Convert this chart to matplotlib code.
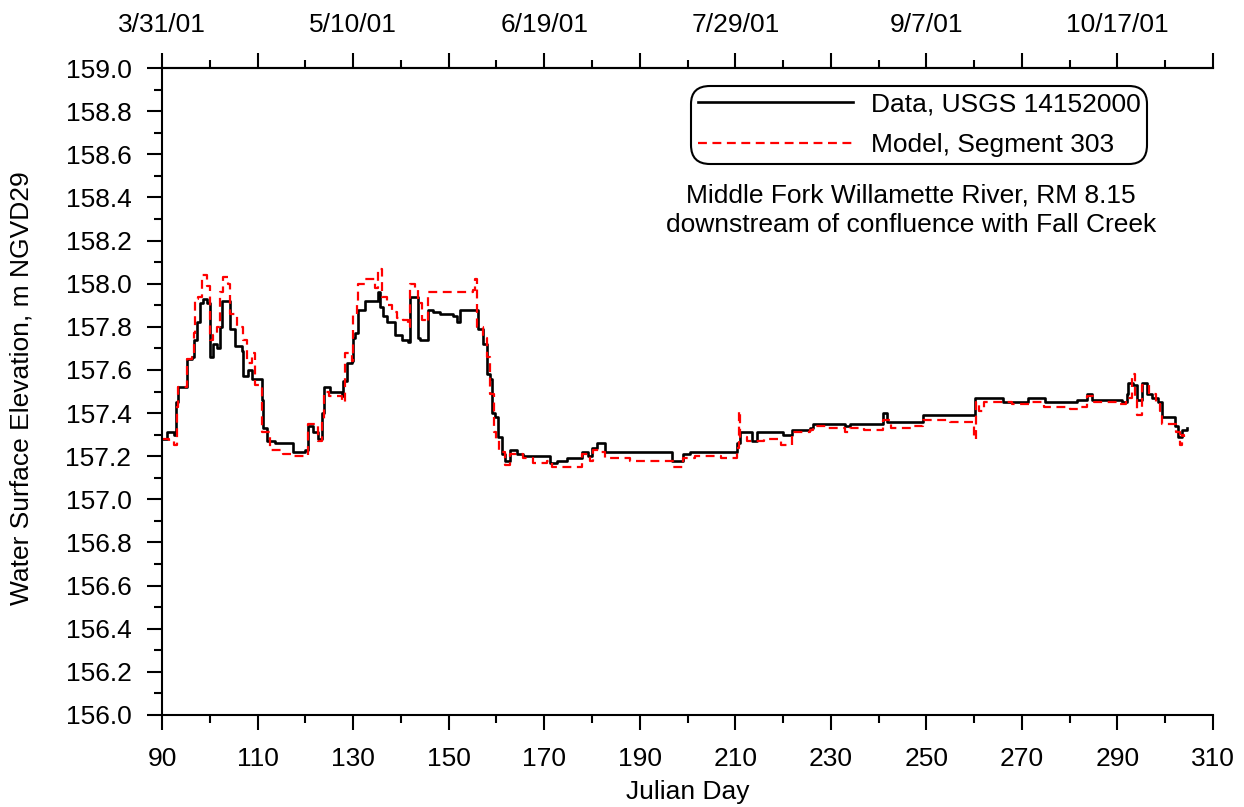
import matplotlib
matplotlib.use("Agg")
import matplotlib.pyplot as plt
from matplotlib.ticker import MultipleLocator, FixedLocator, FixedFormatter

plt.rcParams['font.family'] = ['Liberation Sans', 'DejaVu Sans']

# ---- data ----
data_day = [90, 91, 92.5, 93, 93.4, 94.8, 95.2, 96.3, 96.6, 97.3, 98, 98.6, 99.4, 100, 100.05,
            100.7, 101.5, 102.1, 102.6, 103.6, 104.2, 105.3, 106.7, 107, 108, 108.8, 111, 111.2,
            112, 113.7, 117.4, 120, 120.6, 121.6, 122.6, 123.5, 124, 125.2, 127.7, 127.9, 128.7,
            129.8, 129.9, 130.4, 131, 132, 132.5, 134.2, 135.3, 135.6, 136.3, 137.1, 138.8, 140.2,
            141.5, 141.9, 143.6, 144, 145.5, 145.7, 146.7, 148.2, 149.9, 150.9, 151.8, 152.4, 155.5,
            156.2, 157.2, 158, 158.7, 159.1, 159.7, 160.3, 161.2, 161.8, 162.8, 164.3, 165.6, 170.6,
            171.2, 172.7, 174.8, 177, 177.9, 179.2, 180, 181, 182.1, 182.7, 196.3, 196.7, 198, 199,
            200.5, 210, 210.3, 211, 212.5, 213.5, 214.5, 219, 220, 221.5, 221.9, 225.7, 226.3, 233,
            234, 240.3, 241, 241.8, 249, 249.3, 259.8, 260.2, 261.8, 266, 271.3, 273.8, 274.8, 280,
            281.5, 283.6, 284.6, 291, 292, 292.2, 293.3, 294, 294.6, 295.1, 296.2, 297.2, 298.5,
            299.3, 301.6, 302, 302.7, 303.5, 304.5]
data_wse = [157.28, 157.31, 157.30, 157.45, 157.52, 157.52, 157.65, 157.66, 157.74, 157.82, 157.91,
            157.93, 157.91, 157.80, 157.66, 157.72, 157.70, 157.80, 157.92, 157.92, 157.79, 157.71,
            157.69, 157.57, 157.60, 157.56, 157.46, 157.33, 157.27, 157.26, 157.22, 157.23, 157.34,
            157.31, 157.28, 157.40, 157.52, 157.50, 157.48, 157.55, 157.63, 157.64, 157.75, 157.77,
            157.88, 157.88, 157.92, 157.92, 157.96, 157.89, 157.85, 157.82, 157.76, 157.74, 157.73,
            157.94, 157.75, 157.74, 157.74, 157.88, 157.87, 157.86, 157.86, 157.85, 157.82, 157.88,
            157.88, 157.79, 157.72, 157.58, 157.56, 157.40, 157.38, 157.29, 157.21, 157.18, 157.23,
            157.21, 157.20, 157.20, 157.17, 157.18, 157.19, 157.19, 157.22, 157.20, 157.24, 157.26,
            157.26, 157.22, 157.22, 157.18, 157.18, 157.21, 157.22, 157.22, 157.26, 157.31, 157.31,
            157.27, 157.31, 157.31, 157.30, 157.30, 157.32, 157.33, 157.35, 157.34, 157.35, 157.35,
            157.40, 157.36, 157.36, 157.39, 157.39, 157.47, 157.47, 157.45, 157.47, 157.47, 157.45,
            157.45, 157.46, 157.49, 157.46, 157.45, 157.49, 157.54, 157.53, 157.46, 157.46, 157.54,
            157.49, 157.47, 157.45, 157.38, 157.38, 157.34, 157.29, 157.32, 157.33]

model_day = [90, 91.5, 92.5, 93.1, 93.4, 94.8, 95.2, 96.3, 96.6, 96.9, 97.5, 98.4, 99.4, 100, 100.7,
             101.5, 102.1, 102.8, 103.8, 104.2, 105.7, 107, 107.8, 108.8, 109.5, 110.5, 111, 112.6,
             115.3, 117.4, 120.3, 120.6, 122.6, 123.5, 124, 125, 127.7, 128.3, 129.8, 129.9, 130.8,
             131, 132.5, 134, 134.6, 135.3, 136, 137.1, 138.1, 139.2, 140.5, 141.5, 141.9, 142.9,
             143.6, 144.4, 145.3, 145.7, 147.5, 149.7, 152.4, 155.1, 155.5, 155.9, 157.2, 158,
             158.7, 159.4, 160, 160.5, 161.8, 162.8, 165.6, 167.7, 170.6, 171.6, 177, 177.9, 179.5,
             180.2, 181.6, 182.7, 188, 196.3, 197, 198.4, 199, 201.5, 207, 210.3, 210.8, 211, 212.5,
             213.5, 216, 219, 219.5, 221.9, 225.7, 226.3, 229.5, 233, 234, 237, 241, 242.5, 247.5,
             249.3, 255, 259.5, 259.9, 260.3, 261, 262, 268, 272, 274.6, 280, 282, 283.6, 285, 290,
             291.8, 293, 293.6, 294, 295.1, 296.5, 298, 299, 299.4, 301.5, 302.3, 303.1, 303.6, 303.9]
model_wse = [157.28, 157.27, 157.25, 157.43, 157.52, 157.52, 157.65, 157.66, 157.77, 157.93, 157.94,
             158.04, 157.99, 157.74, 157.76, 157.80, 157.96, 158.03, 158.00, 157.86, 157.80, 157.74,
             157.63, 157.68, 157.53, 157.52, 157.31, 157.23, 157.21, 157.20, 157.20, 157.35, 157.27,
             157.37, 157.50, 157.48, 157.45, 157.68, 157.64, 157.86, 157.92, 158.00, 158.02, 158.02,
             157.98, 158.07, 157.94, 157.90, 157.87, 157.84, 157.83, 157.80, 158.00, 157.98, 157.91,
             157.83, 157.82, 157.96, 157.96, 157.96, 157.96, 157.97, 158.02, 157.80, 157.75, 157.66,
             157.49, 157.31, 157.28, 157.22, 157.16, 157.21, 157.19, 157.17, 157.18, 157.15, 157.15,
             157.21, 157.18, 157.23, 157.22, 157.19, 157.18, 157.18, 157.15, 157.15, 157.19, 157.20,
             157.19, 157.24, 157.41, 157.29, 157.27, 157.27, 157.28, 157.27, 157.25, 157.31, 157.32,
             157.34, 157.33, 157.31, 157.33, 157.32, 157.37, 157.33, 157.34, 157.37, 157.36, 157.36,
             157.28, 157.45, 157.41, 157.45, 157.44, 157.45, 157.43, 157.42, 157.43, 157.48, 157.45,
             157.44, 157.47, 157.58, 157.46, 157.39, 157.53, 157.49, 157.45, 157.41, 157.35, 157.35,
             157.31, 157.25, 157.30, 157.29]

x_major = [90, 110, 130, 150, 170, 190, 210, 230, 250, 270, 290, 310]
x_minor = [100, 120, 140, 160, 180, 200, 220, 240, 260, 280, 300]
top_labels = ['3/31/01', '', '5/10/01', '', '6/19/01', '', '7/29/01', '', '9/7/01', '', '10/17/01', '']

legend_labels = ['Data, USGS 14152000', 'Model, Segment 303']
note = 'Middle Fork Willamette River, RM 8.15\ndownstream of confluence with Fall Creek'

FS = 19

fig = plt.figure(figsize=(12.44, 8.07), dpi=100)
ax = fig.add_axes([162/1244, 1 - 715/807, (1213-162)/1244, (715-68)/807])

ax.plot(data_day, data_wse, color='black', lw=1.9, drawstyle='steps-post', label=legend_labels[0])
ax.plot(model_day, model_wse, color='red', lw=1.6, ls=(0, (4, 2.5)), drawstyle='steps-post',
        label=legend_labels[1])

ax.set_xlim(90, 310)
ax.set_ylim(156.0, 159.0)
ax.xaxis.set_major_locator(FixedLocator(x_major))
ax.xaxis.set_minor_locator(FixedLocator(x_minor))
ax.yaxis.set_major_locator(MultipleLocator(0.2))
ax.yaxis.set_minor_locator(MultipleLocator(0.1))
ax.yaxis.set_major_formatter(matplotlib.ticker.FormatStrFormatter('%.1f'))
ax.tick_params(which='major', direction='out', length=11, width=1.5, labelsize=FS)
ax.tick_params(which='minor', direction='out', length=6, width=1.5)
ax.tick_params(axis='x', which='major', pad=12)
ax.tick_params(axis='y', which='major', pad=11)
for s in ['left', 'bottom', 'top']:
    ax.spines[s].set_linewidth(1.5)
ax.spines['right'].set_visible(False)

top = ax.twiny()
top.set_xlim(90, 310)
top.xaxis.set_major_locator(FixedLocator(x_major))
top.xaxis.set_major_formatter(FixedFormatter(top_labels))
top.xaxis.set_minor_locator(FixedLocator(x_minor))
top.tick_params(which='major', direction='out', length=11, width=1.5, labelsize=FS, pad=11)
top.tick_params(which='minor', direction='out', length=6, width=1.5)
top.spines['top'].set_linewidth(1.5)
top.spines['right'].set_visible(False)
top.spines['left'].set_visible(False)
top.spines['bottom'].set_visible(False)

leg = ax.legend(loc='upper right', bbox_to_anchor=((1147-162)/1051, (715-86)/647),
                fontsize=FS, frameon=True, fancybox=True, handlelength=5.9, handletextpad=0.65,
                borderpad=0.25, labelspacing=0.63, borderaxespad=0)
frame = leg.get_frame()
frame.set_edgecolor('black')
frame.set_linewidth(1.5)
frame.set_alpha(None)
frame.set_facecolor('white')
frame.set_boxstyle('round', pad=0, rounding_size=0.7)

ax.text((911-162)/1051, (715-210)/647, note, transform=ax.transAxes, ha='center', va='center',
        fontsize=FS, linespacing=1.28)

fig.text(688/1244, 1 - 792/807, 'Julian Day', ha='center', va='center', fontsize=FS)
fig.text(22/1244, 1 - 388/807, 'Water Surface Elevation, m NGVD29', ha='center', va='center',
         rotation=90, fontsize=FS)

fig.savefig('out.png', dpi=100)
